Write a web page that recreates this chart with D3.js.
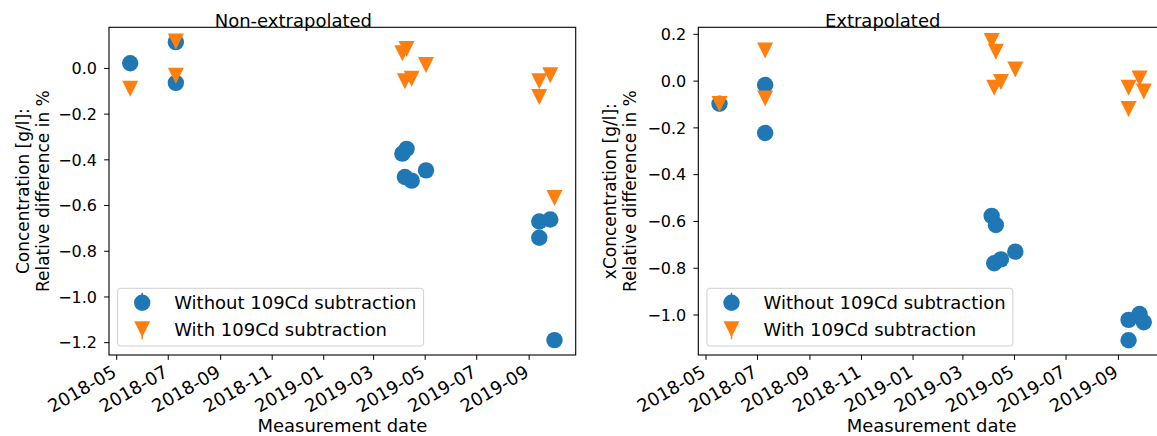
<!DOCTYPE html>
<html>
<head>
<meta charset="utf-8">
<script src="https://cdn.jsdelivr.net/npm/d3@7"></script>
<style>
  body { margin: 0; background: #fff; }
  svg { display: block; }
  text { font-family: "DejaVu Sans", sans-serif; fill: #000; }
</style>
</head>
<body>
<svg id="chart" width="1157" height="436"></svg>
<script>
// Measurement dates shared by both panels
const dates = ["2018-05-17", "2018-07-10", "2018-07-10", "2019-04-04", "2019-04-09",
               "2019-04-07", "2019-04-15", "2019-05-02", "2019-09-13", "2019-09-13",
               "2019-09-26", "2019-10-01"];

// Relative difference in % (non-extrapolated)
const nonExtrapWithout = [0.023, 0.115, -0.063, -0.373, -0.352, -0.475, -0.491, -0.446,
                          -0.670, -0.741, -0.661, -1.189];
const nonExtrapWith    = [-0.089, 0.118, -0.032, 0.066, 0.085, -0.056, -0.045, 0.015,
                          -0.056, -0.125, -0.030, -0.567];

// Relative difference in % (extrapolated)
const extrapWithout = [-0.097, -0.017, -0.222, -0.576, -0.615, -0.779, -0.762, -0.729,
                       -1.021, -1.108, -0.996, -1.031];
const extrapWith    = [-0.098, 0.131, -0.074, 0.171, 0.125, -0.028, -0.004, 0.050,
                       -0.028, -0.119, 0.011, -0.044];

const xTickLabels = ["2018-05", "2018-07", "2018-09", "2018-11", "2019-01",
                     "2019-03", "2019-05", "2019-07", "2019-09"];
const yTicksLeft  = [0.0, -0.2, -0.4, -0.6, -0.8, -1.0, -1.2];
const yTicksRight = [0.2, 0.0, -0.2, -0.4, -0.6, -0.8, -1.0];
const yLimitsLeft  = [-1.254, 0.180];
const yLimitsRight = [-1.171, 0.230];

const seriesNames = ["Without 109Cd subtraction", "With 109Cd subtraction"];
const colors = ["#1f77b4", "#ff7f0e"];

const parseDay = d3.utcParse("%Y-%m-%d");
const parseMonth = d3.utcParse("%Y-%m");
const fmtY = d3.format(".1f");

const svg = d3.select("#chart");

const panels = [
  { left: 109, title: "Non-extrapolated",
    ylabel: ["Concentration [g/l]:", "Relative difference in %"], ylabelX: 29,
    without: nonExtrapWithout, with: nonExtrapWith, yTicks: yTicksLeft, yLimits: yLimitsLeft },
  { left: 698.3, title: "Extrapolated",
    ylabel: ["xConcentration [g/l]:", "Relative difference in %"], ylabelX: 616,
    without: extrapWithout, with: extrapWith, yTicks: yTicksRight, yLimits: yLimitsRight }
];

const plotW = 466.7, plotTop = 27.3, plotBottom = 355;
const tickLen = 4.9;

// Time extent padded by 5% on each side
const tDates = dates.map(parseDay);
const tMin = d3.min(tDates), tMax = d3.max(tDates);
const tPad = (tMax - tMin) * 0.05;
const xDomain = [new Date(+tMin - tPad), new Date(+tMax + tPad)];

panels.forEach(p => {
  const g = svg.append("g");
  const x = d3.scaleUtc().domain(xDomain).range([p.left, p.left + plotW]);
  const y = d3.scaleLinear().domain(p.yLimits).range([plotBottom, plotTop]);

  // Bottom axis: ticks and rotated date labels
  const xt = g.append("g");
  xTickLabels.forEach(lbl => {
    const tx = x(parseMonth(lbl));
    xt.append("line").attr("x1", tx).attr("x2", tx)
      .attr("y1", plotBottom).attr("y2", plotBottom + tickLen)
      .attr("stroke", "#000").attr("stroke-width", 1);
    xt.append("text").text(lbl)
      .attr("transform", `translate(${tx + 1},${plotBottom + 20.5}) rotate(-30)`)
      .attr("text-anchor", "end")
      .style("font-size", "18px");
  });

  // Left axis
  const yt = g.append("g");
  p.yTicks.forEach(v => {
    const ty = y(v);
    yt.append("line").attr("x1", p.left - tickLen).attr("x2", p.left)
      .attr("y1", ty).attr("y2", ty)
      .attr("stroke", "#000").attr("stroke-width", 1);
    yt.append("text").text(fmtY(v))
      .attr("x", p.left - 12).attr("y", ty + 5.8)
      .attr("text-anchor", "end")
      .style("font-size", "16px");
  });

  // Markers: circles first, triangles over them
  const pts = dates.map((d, i) => ({ t: parseDay(d), a: p.without[i], b: p.with[i] }));
  g.append("g").selectAll("circle").data(pts).join("circle")
    .attr("cx", d => x(d.t)).attr("cy", d => y(d.a)).attr("r", 8.2)
    .attr("fill", colors[0]);
  g.append("g").selectAll("path").data(pts).join("path")
    .attr("d", "M0,8L-8,-8L8,-8Z")
    .attr("transform", d => `translate(${x(d.t)},${y(d.b)})`)
    .attr("fill", colors[1]);

  // Frame
  g.append("rect").attr("x", p.left).attr("y", plotTop)
    .attr("width", plotW).attr("height", plotBottom - plotTop)
    .attr("fill", "none").attr("stroke", "#000").attr("stroke-width", 1.1);

  // Title
  g.append("text").text(p.title)
    .attr("x", p.left + plotW / 2 - 49).attr("y", 26.5)
    .attr("text-anchor", "middle").style("font-size", "18px");

  // Axis labels
  g.append("text").text("Measurement date")
    .attr("x", p.left + plotW / 2).attr("y", 432)
    .attr("text-anchor", "middle").style("font-size", "18px");
  const yl = g.append("text")
    .attr("transform", `translate(${p.ylabelX},${(plotTop + plotBottom) / 2}) rotate(-90)`)
    .attr("text-anchor", "middle").style("font-size", "17px");
  p.ylabel.forEach((line, i) => {
    yl.append("tspan").text(line).attr("x", 0).attr("y", i * 19.5);
  });

  // Legend
  const lx = p.left + 8.6, ly = 288.3;
  const leg = g.append("g");
  leg.append("rect").attr("x", lx).attr("y", ly).attr("width", 306).attr("height", 57.7)
    .attr("rx", 3).attr("fill", "#fff").attr("fill-opacity", 0.8)
    .attr("stroke", "#d0d0d0").attr("stroke-width", 1);
  const mx = lx + 24.6;
  leg.append("line").attr("x1", mx).attr("x2", mx).attr("y1", 292.7).attr("y2", 302.7)
    .attr("stroke", colors[0]).attr("stroke-width", 1.5);
  leg.append("circle").attr("cx", mx).attr("cy", 302.7).attr("r", 8.2).attr("fill", colors[0]);
  leg.append("line").attr("x1", mx).attr("x2", mx).attr("y1", 329.3).attr("y2", 339.3)
    .attr("stroke", colors[1]).attr("stroke-width", 1.5);
  leg.append("path").attr("d", "M0,8L-8,-8L8,-8Z")
    .attr("transform", `translate(${mx},329.3)`).attr("fill", colors[1]);
  seriesNames.forEach((s, i) => {
    leg.append("text").text(s).attr("x", lx + 56.6).attr("y", 309.3 + i * 26.7)
      .style("font-size", "18px");
  });
});
</script>
</body>
</html>
